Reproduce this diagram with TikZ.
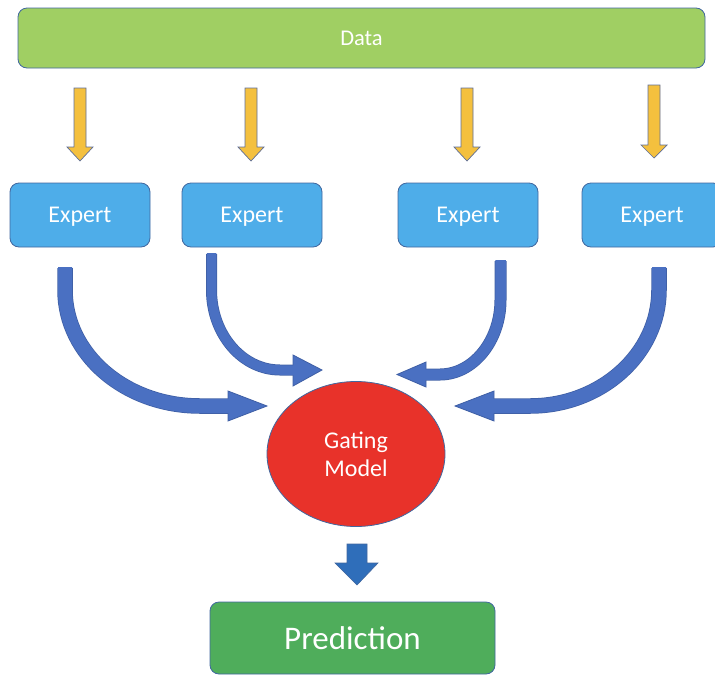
\documentclass[tikz,border=0pt]{standalone}
\usepackage{fontspec}
\setmainfont{Carlito}
\usetikzlibrary{shapes.geometric}
\definecolor{datagreen}{HTML}{A0CF63}
\definecolor{predgreen}{HTML}{4FAD5B}
\definecolor{expblue}{HTML}{4EADE9}
\definecolor{edgeblue}{HTML}{41679F}
\definecolor{arrblue}{HTML}{4A70C2}
\definecolor{arredge}{HTML}{3F5FA5}
\definecolor{downblue}{HTML}{2F6EBA}
\definecolor{gold}{HTML}{F4C03E}
\definecolor{goldedge}{HTML}{5F6E96}
\definecolor{gatered}{HTML}{E8322A}
\begin{document}
\begin{tikzpicture}[x=1pt,y=-1pt,
  box/.style={rounded corners=9pt, draw=edgeblue, line width=0.8pt, text=white, inner sep=0pt, text depth=0pt},
  databox/.style={box, fill=datagreen, minimum width=687pt, minimum height=60pt, font=\fontsize{22.5}{26}\selectfont},
  expbox/.style={box, fill=expblue, minimum width=140pt, minimum height=64pt, font=\fontsize{24}{28}\selectfont},
  predbox/.style={box, fill=predgreen, minimum width=285pt, minimum height=72pt, font=\fontsize{33}{38}\selectfont},
  gate/.style={ellipse, draw=edgeblue, line width=0.8pt, fill=gatered, text=white, minimum width=178pt, minimum height=145pt, inner sep=0pt, align=center, text depth=0pt, font=\fontsize{24}{28}\selectfont},
  yarrow/.style={fill=gold, draw=goldedge, line width=0.7pt, line join=miter},
  headst/.style={fill=arrblue, draw=arredge, line width=0.8pt},
]
\useasboundingbox (0,0) rectangle (715,675);

% nodes
\node[databox] (data) at (361.5,38) {Data};
\node[expbox] (e1) at (80,215) {Expert};
\node[expbox] (e2) at (252,215) {Expert};
\node[expbox] (e3) at (468,215) {Expert};
\node[expbox] (e4) at (652,215) {Expert};
\node[gate] (gm) at (356,454) {Gating\\Model};
\node[predbox] (pred) at (352.5,638) {Prediction};

% yellow arrows data -> experts
\foreach \x/\t/\b/\tip in {80/88/147/161, 251/88/147/161, 467/88/147/161, 654/85/145/158}{
  \filldraw[yarrow] (\x-6,\t) -- (\x+6,\t) -- (\x+6,\b) -- (\x+13,\b) -- (\x,\tip) -- (\x-13,\b) -- (\x-6,\b) -- cycle;
}

% curved arrows experts -> gating
% arrow 1
\coordinate (s1) at (65,268);
\coordinate (b1) at (230,406);
\draw[line width=15.5pt, arredge] (s1) -- (65,290) .. controls (65,354) and (125,406) .. (200,406) -- (b1);
\filldraw[headst] (228,391) -- (267,406) -- (228,421) -- cycle;
\draw[line width=14pt, arrblue] ([yshift=0.8pt]s1) -- (65,290) .. controls (65,354) and (125,406) .. (200,406) -- (b1);
% arrow 2
\coordinate (s2) at (211.5,254);
\coordinate (b2) at (295,370);
\draw[line width=11pt, arredge] (s2) -- (211.5,290) .. controls (211.5,334) and (242,370) .. (280,370) -- (b2);
\filldraw[headst] (293,355) -- (322,370) -- (293,386) -- cycle;
\draw[line width=9.5pt, arrblue] ([yshift=0.8pt]s2) -- (211.5,290) .. controls (211.5,334) and (242,370) .. (280,370) -- (b2);
% arrow 3
\coordinate (s3) at (500.5,261);
\coordinate (b3) at (424,374.5);
\draw[line width=12pt, arredge] (s3) -- (500.5,300) .. controls (500.5,341) and (473,374.5) .. (440,374.5) -- (b3);
\filldraw[headst] (426,362) -- (397,374.5) -- (426,387) -- cycle;
\draw[line width=10.5pt, arrblue] ([yshift=0.8pt]s3) -- (500.5,300) .. controls (500.5,341) and (473,374.5) .. (440,374.5) -- (b3);
% arrow 4
\coordinate (s4) at (659,268);
\coordinate (b4) at (492,406);
\draw[line width=15.5pt, arredge] (s4) -- (659,290) .. controls (659,354) and (601,406) .. (530,406) -- (b4);
\filldraw[headst] (494,391) -- (455,406) -- (494,421) -- cycle;
\draw[line width=14pt, arrblue] ([yshift=0.8pt]s4) -- (659,290) .. controls (659,354) and (601,406) .. (530,406) -- (b4);

% gating -> prediction
\filldraw[fill=downblue, draw=edgeblue, line width=0.6pt] (347,544) -- (367,544) -- (367,563) -- (378,563) -- (357,585) -- (335,563) -- (347,563) -- cycle;
\end{tikzpicture}
\end{document}
